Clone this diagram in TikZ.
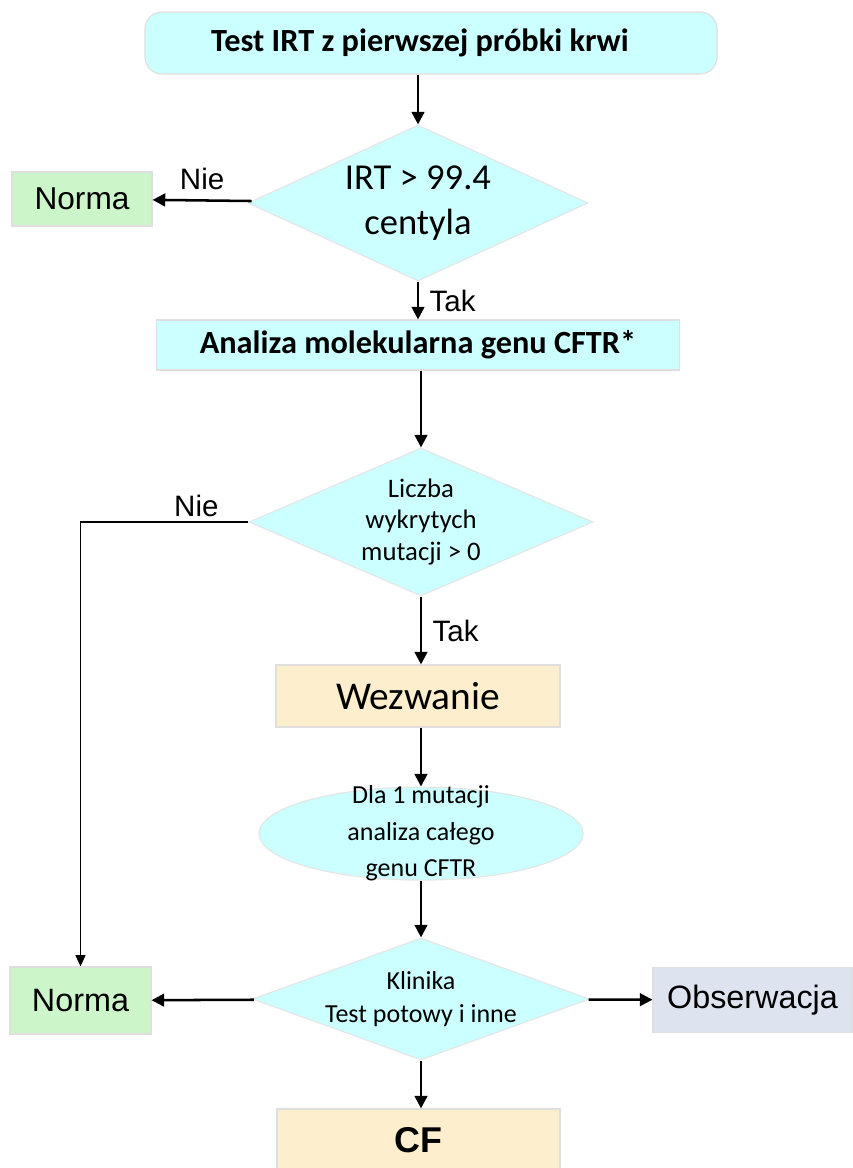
\documentclass[tikz,border=0pt]{standalone}
\usepackage{fontspec}
\setmainfont{Carlito}
\newfontfamily\arialfont{Liberation Sans}
\usetikzlibrary{shapes.geometric,arrows.meta}
\definecolor{boxcyan}{RGB}{204,255,255}
\definecolor{boxgreen}{RGB}{204,245,202}
\definecolor{boxbeige}{RGB}{253,239,206}
\definecolor{boxblue}{RGB}{221,228,240}

\begin{document}
\begin{tikzpicture}[
                block/.style={rectangle,draw=gray!25,line width=0.8pt,inner sep=0pt,align=center},
                decision/.style={diamond,draw=gray!20,line width=0.8pt,fill=boxcyan,inner sep=0pt},
                flow/.style={line width=1.8pt,-{Triangle[width=9pt,length=9pt]}},
                branch/.style={font=\arialfont\fontsize{21}{25}\selectfont}
            ]
                \useasboundingbox (0,0) rectangle (21.325,-29.2);
                \clip (0,0) rectangle (21.325,-29.2);

                \node[block,fill=boxcyan,rounded corners=12pt,minimum width=14.3cm,minimum height=1.55cm] (test) at (10.775,-1.075) {};
                \node[font=\fontsize{23}{27}\selectfont\bfseries] (testtext) at (10.5,-1.075) {Test IRT z pierwszej próbki krwi};
                \node[decision,minimum width=8.5cm,minimum height=3.9cm] (irt) at (10.45,-5.075) {};
                \node[align=center,font=\fontsize{26}{32}\selectfont] (irttext) at (irt) {IRT > 99.4\\centyla};
                \node[block,fill=boxgreen,minimum width=3.5cm,minimum height=1.35cm,
                      font=\arialfont\fontsize{22.5}{26}\selectfont] (norma1) at (2.05,-4.975) {Norma};
                \node[block,fill=boxcyan,minimum width=13.075cm,minimum height=1.25cm,
                      font=\fontsize{23}{27}\selectfont\bfseries] (analiza) at (10.45,-8.625) {Analiza molekularna genu CFTR*};
                \node[decision,minimum width=8.6cm,minimum height=3.7cm] (liczba) at (10.525,-13.05) {};
                \node[align=center,font=\fontsize{19}{22.7}\selectfont] (liczbatext) at (liczba) {Liczba\\wykrytych\\mutacji > 0};
                \node[block,fill=boxbeige,minimum width=7.1cm,minimum height=1.55cm,
                      font=\fontsize{28}{32}\selectfont] (wezwanie) at (10.45,-17.4) {Wezwanie};
                \node[ellipse,draw=gray!20,line width=0.8pt,fill=boxcyan,inner sep=0pt,minimum width=8.1cm,minimum height=2.325cm] (dla) at (10.525,-20.84) {};
                \node[align=center,font=\fontsize{18.5}{18.5}\selectfont] (dlatext) at (dla) {Dla 1 mutacji\\[0.26cm]analiza całego\\[0.26cm]genu CFTR};
                \node[decision,minimum width=8.425cm,minimum height=3.05cm] (klinika) at (10.525,-24.975) {};
                \node[align=center,font=\fontsize{18.5}{23.4}\selectfont] (klinikatext) at (klinika) {Klinika\\Test potowy i inne};
                \node[block,fill=boxgreen,minimum width=3.525cm,minimum height=1.675cm,
                      font=\arialfont\fontsize{23}{27}\selectfont] (norma2) at (2.0125,-25.0125) {Norma};
                \node[block,fill=boxblue,minimum width=4.975cm,minimum height=1.625cm,
                      font=\arialfont\fontsize{23}{27}\selectfont] (obserwacja) at (18.8125,-25.0) {Obserwacja};
                \node[block,fill=boxbeige,minimum width=7.075cm,minimum height=1.55cm,
                      font=\arialfont\fontsize{25.5}{30}\selectfont\bfseries] (cf) at (10.4625,-28.5) {CF};

                \draw[flow] (test.south -| irt.north) -- (irt.north);
                \draw[flow] (irt) -- node[branch,above=3pt] {Nie} (norma1);
                \draw[flow] (irt) -- node[branch,right=4pt] {Tak} (analiza.north -| irt.south);
                \draw[flow] (analiza.south -| liczba.north) -- (liczba);
                \draw[line width=1pt,-{Triangle[width=7pt,length=8pt]}] (liczba.west) -- node[branch,above,pos=0.31] {Nie} (2.0125,-13.05) -- (norma2);
                \draw[flow] (liczba) -- node[branch,right=4pt] {Tak} (wezwanie.north -| liczba.south);
                \draw[flow] (wezwanie.south -| dla.north) -- (dla);
                \draw[flow] (dla) -- (klinika);
                \draw[flow] (klinika) -- (norma2);
                \draw[flow] (klinika) -- (obserwacja);
                \draw[flow] (klinika.south) -- (cf.north -| klinika.south);

            \end{tikzpicture}
\end{document}
